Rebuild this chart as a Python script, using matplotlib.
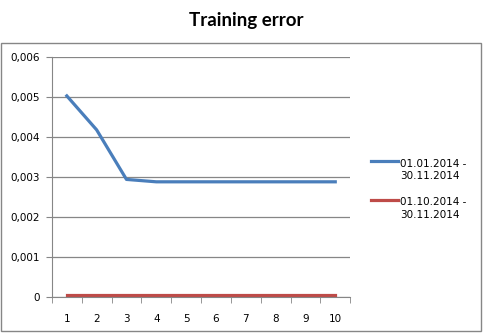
import matplotlib.pyplot as plt
import numpy as np
from matplotlib.patches import Rectangle
from matplotlib.legend_handler import HandlerLine2D

epochs = [1, 2, 3, 4, 5, 6, 7, 8, 9, 10]
err_full = [0.00503, 0.00418, 0.00294, 0.00288, 0.00288, 0.00288, 0.00288, 0.00288, 0.00288, 0.00288]
err_short = [0.00004, 0.00004, 0.00004, 0.00004, 0.00004, 0.00004, 0.00004, 0.00004, 0.00004, 0.00004]
labels = ["01.01.2014 -\n30.11.2014", "01.10.2014 -\n30.11.2014"]
yticks = [0, 0.001, 0.002, 0.003, 0.004, 0.005, 0.006]
ytick_labels = ["0", "0,001", "0,002", "0,003", "0,004", "0,005", "0,006"]


class TopLine(HandlerLine2D):
    # put the legend line next to the first text row, like Excel does
    def create_artists(self, legend, orig_handle, xdescent, ydescent,
                       width, height, fontsize, trans):
        arts = super().create_artists(legend, orig_handle, xdescent, ydescent,
                                      width, height, fontsize, trans)
        for a in arts:
            a.set_ydata(np.asarray(a.get_ydata()) + fontsize * 0.85)
        return arts


fig = plt.figure(figsize=(4.85, 3.34), dpi=100)
fig.patches.append(Rectangle((1 / 485, 3 / 334), 480 / 485, 288 / 334, transform=fig.transFigure,
                             fill=False, edgecolor="#868686", linewidth=1))
ax = fig.add_axes([0.107, 0.111, 0.615, 0.718])

ax.plot(epochs, err_full, color="#4a7ebb", linewidth=2.3, label=labels[0])
ax.plot(epochs, err_short, color="#be4b48", linewidth=2.3, label=labels[1])

ax.set_xlim(0.5, 10.5)
ax.set_ylim(0, 0.006)
ax.set_yticks(yticks)
ax.set_yticklabels(ytick_labels)
ax.set_xticks(epochs)
ax.set_xticks([x + 0.5 for x in range(0, 11)], minor=True)
ax.tick_params(axis="x", which="major", length=0, pad=12, labelsize=7.5)
ax.tick_params(axis="x", which="minor", length=4, color="#868686")
ax.tick_params(axis="y", length=4, color="#868686", labelsize=7.5, pad=5)
ax.grid(axis="y", color="#868686", linewidth=0.9)
ax.set_axisbelow(True)
for s in ["top", "right"]:
    ax.spines[s].set_visible(False)
for s in ["left", "bottom"]:
    ax.spines[s].set_color("#868686")

fig.text(0.507, 0.94, "Training error", ha="center", va="center",
         fontsize=13.5, fontweight="bold", family="Lato")
leg = fig.legend(loc="center left", bbox_to_anchor=(0.745, 0.433), frameon=False,
                 fontsize=7.5, handlelength=2.6, handletextpad=0.2, labelspacing=1.55,
                 handler_map={plt.Line2D: TopLine()})
for t in leg.get_texts():
    t.set_linespacing(1.35)

fig.savefig("out.png", dpi=100)
